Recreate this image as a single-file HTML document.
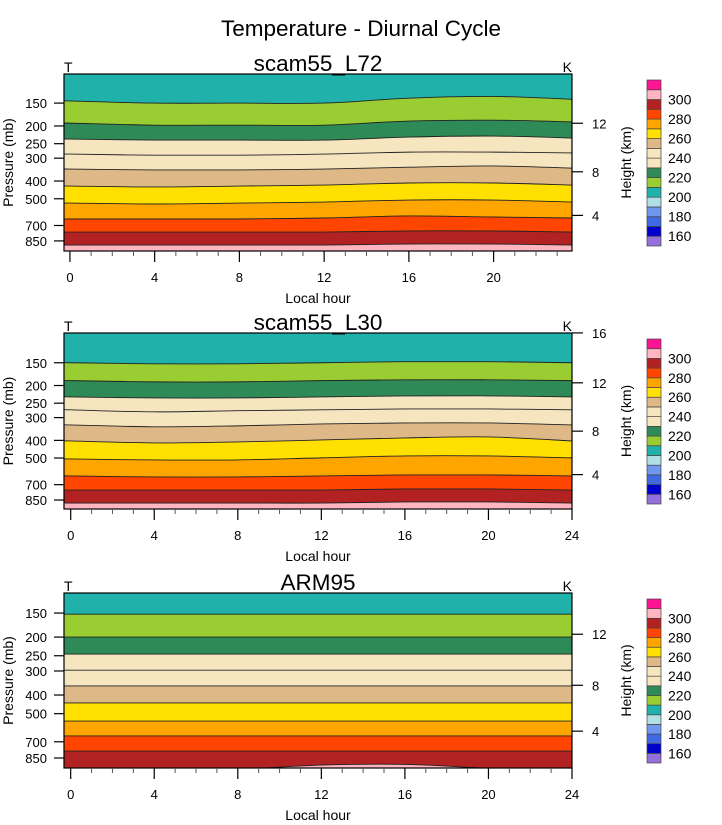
<!DOCTYPE html>
<html><head><meta charset="utf-8"><style>
html,body{margin:0;padding:0;background:#fff;}
svg{display:block;font-family:"Liberation Sans",sans-serif;}
</style></head><body>
<svg id="fig" width="722" height="825" viewBox="0 0 722 825">
<text x="361" y="36" font-size="22.5" text-anchor="middle">Temperature - Diurnal Cycle</text>
</svg>
<script>
// contour levels (K)
const levels = [210,220,230,240,250,260,270,280,290,300];
// hours sampled
const hoursL72 = [0,4,8,12,16,20,23.7];
const hoursL30 = [0,4,8,12,16,20,24];
const hoursARM = [0,4,8,12,16,20,24];
// pressure (mb) of each isotherm at each hour
const isoL72 = [
 [146,150,150,150,141,138,143],
 [193,198,198,198,188,186,190],
 [236,239,239,239,230,227,233],
 [285,289,289,285,278,278,281],
 [344,348,348,344,336,331,340],
 [426,431,426,421,410,410,421],
 [528,534,528,521,508,508,521],
 [645,645,645,637,621,629,637],
 [760,760,760,760,750,750,760],
 [895,895,895,895,884,884,895]];
const isoL30 = [
 [150,152,152,150,148,148,150],
 [188,191,191,188,186,186,188],
 [231,234,234,231,228,228,231],
 [272,279,275,272,269,269,272],
 [329,337,333,325,321,321,329],
 [403,413,408,398,388,383,403],
 [506,512,512,499,487,487,499],
 [627,635,635,627,619,619,627],
 [749,749,749,749,739,739,749],
 [883,883,883,883,871,871,883]];
const isoARM = [
 [152,152,152,152,152,152,152],
 [200,200,200,200,200,200,200],
 [245,245,245,245,245,245,245],
 [297,297,297,297,297,297,297],
 [359,359,359,359,359,359,359],
 [440,440,440,440,440,440,440],
 [546,546,546,546,546,546,546],
 [653,653,653,653,653,653,653],
 [782,782,782,782,782,782,782],
 [1010,1010,975,925,918,962,1010]];
const pTicks = [150,200,250,300,400,500,700,850];
const hTicks = [4,8,12,16];
const cbLabels = [160,180,200,220,240,260,280,300];

const NS="http://www.w3.org/2000/svg";
const svg=document.getElementById('fig');
const bandColors=['#20b2aa','#9acd32','#2e8b57','#f5e6c0','#f5e6c0','#deb887','#ffe000','#ffa500','#ff4500','#b22222','#ffb6c1'];
const cbColors=['#9370db','#0000cd','#4169e1','#6f97ee','#b0e0e6','#20b2aa','#9acd32','#2e8b57','#f5e6c0','#f5e6c0','#deb887','#ffe000','#ffa500','#ff4500','#b22222','#ffb6c1','#ff1493'];
function mk(tag,attrs,parent){const e=document.createElementNS(NS,tag);for(const k in attrs)e.setAttribute(k,attrs[k]);(parent||svg).appendChild(e);return e;}
function stdP(zkm){const z=zkm*1000;if(z<=11000)return 1013.25*Math.pow(1-2.25577e-5*z,5.25588);return 226.32*Math.exp(-(z-11000)/6341.6);}

const panels=[
 {id:'l72',title:'scam55_L72',yTop:74,yBot:251,pTop:104,pBot:965,xMin:-0.28,xMax:23.7,maxTick:20,maxMinor:23,hours:hoursL72,iso:isoL72},
 {id:'l30',title:'scam55_L30',yTop:333,yBot:509,pTop:103,pBot:952,xMin:-0.32,xMax:24,maxTick:24,maxMinor:24,hours:hoursL30,iso:isoL30},
 {id:'arm',title:'ARM95',yTop:593,yBot:768,pTop:118,pBot:958,xMin:-0.32,xMax:24,maxTick:24,maxMinor:24,hours:hoursARM,iso:isoARM}];
const X0=64,X1=572;

panels.forEach((P,pi)=>{
 const g=mk('g',{});
 
 
 const xs=h=>X0+(h-P.xMin)/(P.xMax-P.xMin)*(X1-X0);
 const ys=p=>P.yTop+(Math.log(p)-Math.log(P.pTop))/(Math.log(P.pBot)-Math.log(P.pTop))*(P.yBot-P.yTop);
 const cid='clip'+pi;
 const cp=mk('clipPath',{id:cid},g);mk('rect',{x:X0,y:P.yTop,width:X1-X0,height:P.yBot-P.yTop},cp);
 const pg=mk('g',{'clip-path':'url(#'+cid+')'},g);
 const bg=mk('rect',{x:X0,y:P.yTop,width:X1-X0,height:P.yBot-P.yTop,fill:bandColors[0]},pg);
 
 
 function curve(arr){
  const pts=[[xs(P.xMin)-2,ys(arr[0])]];
  P.hours.forEach((h,i)=>pts.push([xs(h),ys(arr[i])]));
  pts.push([X1+2,ys(arr[arr.length-1])]);
  let d='M'+pts[0][0]+','+pts[0][1];
  for(let i=0;i<pts.length-1;i++){
   const p0=pts[Math.max(0,i-1)],p1=pts[i],p2=pts[i+1],p3=pts[Math.min(pts.length-1,i+2)];
   const c1=[p1[0]+(p2[0]-p0[0])/6,p1[1]+(p2[1]-p0[1])/6];
   const c2=[p2[0]-(p3[0]-p1[0])/6,p2[1]-(p3[1]-p1[1])/6];
   d+=' C'+c1[0].toFixed(2)+','+c1[1].toFixed(2)+' '+c2[0].toFixed(2)+','+c2[1].toFixed(2)+' '+p2[0].toFixed(2)+','+p2[1].toFixed(2);
  }
  return d;
 }
 levels.forEach((lv,i)=>{
  const c=curve(P.iso[i]);
  const f=mk('path',{d:c+' L'+(X1+2)+','+(P.yBot+2)+' L'+(X0-2)+','+(P.yBot+2)+' Z',fill:bandColors[i+1]},pg);
  
  
 });
 levels.forEach((lv,i)=>{
  const l=mk('path',{d:curve(P.iso[i]),fill:'none',stroke:'#222','stroke-width':0.9},pg);
  
  
 });
 const fr=mk('rect',{x:X0,y:P.yTop,width:X1-X0,height:P.yBot-P.yTop,fill:'none',stroke:'#000','stroke-width':1.2},g);
 
 
 pTicks.forEach(p=>{
  const y=ys(p);
  mk('line',{x1:X0-10,x2:X0,y1:y,y2:y,stroke:'#000','stroke-width':1.2},g);
  const t=mk('text',{x:X0-17,y:y+5,'font-size':13,'text-anchor':'end'},g);t.textContent=p;
  
  
 });
 const yl=mk('text',{x:0,y:0,'font-size':14,'text-anchor':'middle',transform:'translate(13,'+((P.yTop+P.yBot)/2)+') rotate(-90)'},g);
 yl.textContent='Pressure (mb)';
 
 
 for(let h=0;h<=P.maxMinor;h++){
  const x=xs(h),maj=h%4===0&&h<=P.maxTick;
  mk('line',{x1:x,x2:x,y1:P.yBot,y2:P.yBot+(maj?11:5),stroke:maj?'#000':'#555','stroke-width':maj?1.2:1},g);
  if(maj){const t=mk('text',{x:x,y:P.yBot+31,'font-size':13,'text-anchor':'middle'},g);t.textContent=h;
   
   }
 }
 const xl=mk('text',{x:318,y:P.yBot+52,'font-size':14,'text-anchor':'middle'},g);xl.textContent='Local hour';
 
 
 hTicks.forEach(z=>{
  const p=stdP(z);if(p<P.pTop-0.5||p>P.pBot)return;
  const y=ys(p);
  mk('line',{x1:X1,x2:X1+11,y1:y,y2:y,stroke:'#000','stroke-width':1.2},g);
  const t=mk('text',{x:X1+20,y:y+5,'font-size':13},g);t.textContent=z;
  
  
 });
 const hl=mk('text',{x:0,y:0,'font-size':14,'text-anchor':'middle',transform:'translate(631,'+((P.yTop+P.yBot)/2)+') rotate(-90)'},g);
 hl.textContent='Height (km)';
 
 
 const tt=mk('text',{x:318,y:P.yTop-3,'font-size':22.5,'text-anchor':'middle'},g);tt.textContent=P.title;
 
 
 const tl=mk('text',{x:64,y:P.yTop-2,'font-size':14},g);tl.textContent='T';
 
 
 const kl=mk('text',{x:572,y:P.yTop-2,'font-size':14,'text-anchor':'end'},g);kl.textContent='K';
 
 
 const cb=mk('g',{},g);
 
 
 const cTop=P.yTop+6,cBot=P.yBot-5,bh=(cBot-cTop)/cbColors.length;
 cbColors.forEach((c,i)=>{
  const r=mk('rect',{x:647,y:cBot-(i+1)*bh,width:14,height:bh,fill:c,stroke:'#444','stroke-width':0.7},cb);
  
  
 });
 cbLabels.forEach(v=>{
  const k=(v-150)/10;
  const y=cBot-k*bh;
  const t=mk('text',{x:668,y:y+5,'font-size':14},cb);t.textContent=v;
  
  
 });
});
</script>
</body></html>
